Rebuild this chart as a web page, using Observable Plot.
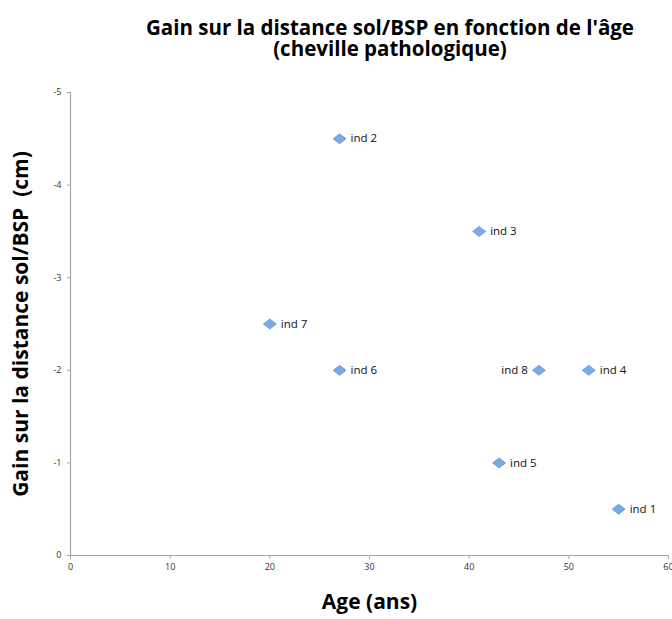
<!DOCTYPE html>
<html>
<head>
<meta charset="utf-8">
<script src="https://cdn.jsdelivr.net/npm/d3@7"></script>
<script src="https://cdn.jsdelivr.net/npm/@observablehq/plot@0.6"></script>
<style>
  body { margin: 0; background: #fff; }
  #title { width: 672px; height: 75px; box-sizing: border-box; padding-top: 17px; padding-left: 108px;
    text-align: center; font-family: "Open Sans", sans-serif; font-weight: bold; font-size: 20.5px; line-height: 21px; color: #000; }
  #title div { height: 21px; overflow: visible; }
</style>
</head>
<body>
<div id="title"><div>Gain sur la distance sol/BSP en fonction de l'âge</div><div>(cheville pathologique)</div></div>
<div id="chart"></div>
<script>
const names = ["ind 1", "ind 2", "ind 3", "ind 4", "ind 5", "ind 6", "ind 7", "ind 8"];
const ages = [55, 27, 41, 52, 43, 27, 20, 47];
const gains = [-0.5, -4.5, -3.5, -2, -1, -2, -2.5, -2];
const xTicks = [0, 10, 20, 30, 40, 50, 60];
const yTicks = [0, -1, -2, -3, -4, -5];
const xLabel = "Age (ans)";
const yLabel = "Gain sur la distance sol/BSP  (cm)";

const data = names.map((n, i) => ({name: n, age: ages[i], gain: gains[i]}));
const leftLabeled = ["ind 8"];

// wide diamond marker (like the spreadsheet's)
const wideDiamond = {
  draw(context, size) {
    const w = 6.5, h = 5;
    context.moveTo(0, -h);
    context.lineTo(w, 0);
    context.lineTo(0, h);
    context.lineTo(-w, 0);
    context.closePath();
  }
};

const axisColor = "#a6a6a6";
const chart = Plot.plot({
  width: 672,
  height: 544,
  marginLeft: 70,
  marginRight: 4,
  marginTop: 17,
  marginBottom: 64,
  style: {fontFamily: "'Open Sans', sans-serif", background: "#fff", color: "#333"},
  x: {domain: [0, 60]},
  y: {domain: [0, -5]},
  marks: [
    Plot.ruleY([0], {stroke: axisColor, strokeWidth: 1.2}),
    Plot.ruleX([0], {stroke: axisColor, strokeWidth: 1.2}),
    Plot.axisX({ticks: xTicks, tickSize: 4, tickPadding: 4, fontSize: 9, stroke: axisColor, color: "#333", label: null, tickFormat: d => String(d)}),
    Plot.axisY({ticks: yTicks, tickSize: 3, tickPadding: 6, fontSize: 9, stroke: axisColor, label: null, tickFormat: d => String(d)}),
    Plot.dot(data, {x: "age", y: "gain", symbol: wideDiamond, fill: "#7aa9e4", stroke: "#6497d8", strokeWidth: 0.8}),
    Plot.text(data.filter(d => !leftLabeled.includes(d.name)), {x: "age", y: "gain", text: "name", dx: 11, textAnchor: "start", fontSize: 11.5, fill: "#111"}),
    Plot.text(data.filter(d => leftLabeled.includes(d.name)), {x: "age", y: "gain", text: "name", dx: -11, textAnchor: "end", fontSize: 11.5, fill: "#111"}),
    Plot.text([xLabel], {frameAnchor: "bottom", dy: 53, textAnchor: "middle", fontSize: 21, fontWeight: "bold", fill: "#000"}),
    Plot.text([yLabel], {frameAnchor: "left", dx: -49, textAnchor: "middle", rotate: -90, fontSize: 21, fontWeight: "bold", fill: "#000"})
  ]
});
document.getElementById("chart").appendChild(chart);
</script>
</body>
</html>
